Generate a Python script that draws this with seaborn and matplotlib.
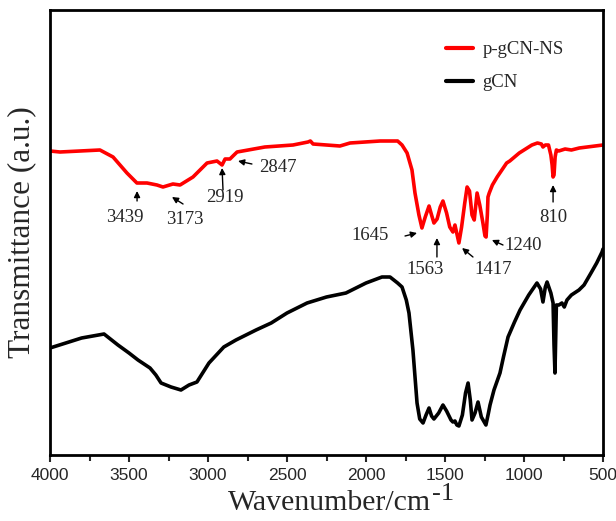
import numpy as np
import pandas as pd
import matplotlib
matplotlib.use("Agg")
import matplotlib.pyplot as plt
import seaborn as sns

# ---- data (y in arbitrary transmittance units) ----
red_wn = [4000, 3937, 3684, 3601, 3513, 3450, 3386, 3323, 3285, 3222, 3177, 3095, 3006,
          2943, 2911, 2892, 2861, 2842, 2816, 2640, 2462, 2367, 2352, 2335, 2165, 2101,
          1911, 1800, 1772, 1740, 1709, 1690, 1665, 1646, 1625, 1601, 1585, 1570, 1550,
          1530, 1513, 1490, 1470, 1450, 1437, 1412, 1395, 1375, 1360, 1345, 1329, 1315,
          1297, 1280, 1260, 1247, 1240, 1232, 1228, 1220, 1200, 1170, 1140, 1110, 1090,
          1060, 1030, 990, 950, 915, 890, 880, 865, 845, 830, 822, 816, 810, 803, 795,
          780, 740, 700, 650, 600, 550, 500]
red_val = [304, 303, 305, 298, 282, 272, 272, 270, 268, 271, 270, 278, 292,
           294, 290, 296, 296, 299, 303, 308, 310, 313, 314, 311, 309, 312,
           314, 314, 310, 302, 285, 262, 240, 227, 238, 249, 240, 232, 236,
           248, 254, 242, 228, 223, 230, 212, 228, 252, 268, 264, 240, 235,
           262, 250, 232, 219, 218, 240, 258, 262, 270, 278, 285, 292, 294,
           298, 302, 306, 310, 312, 311, 308, 310, 310, 300, 290, 278, 280, 298, 305,
           304, 306, 305, 307, 308, 309, 310]

black_wn = [4000, 3900, 3800, 3658, 3570, 3500, 3443, 3367, 3330, 3297, 3234, 3171, 3120,
            3070, 2994, 2900, 2823, 2696, 2600, 2500, 2373, 2250, 2127, 2000, 1899, 1848,
            1800, 1772, 1745, 1728, 1703, 1677, 1660, 1639, 1620, 1601, 1585, 1570, 1540,
            1513, 1490, 1462, 1450, 1437, 1425, 1412, 1390, 1370, 1354, 1340, 1329, 1310,
            1291, 1270, 1241, 1225, 1215, 1190, 1152, 1130, 1101, 1060, 1025, 970, 918,
            895, 880, 865, 854, 830, 816, 810, 804, 795, 779, 760, 745, 728, 700, 652,
            620, 576, 540, 506, 500]
black_val = [107, 112, 117, 121, 110, 102, 95, 87, 80, 72, 68, 65, 70,
             73, 92, 108, 115, 125, 132, 142, 152, 158, 162, 172, 178, 178,
             172, 168, 155, 142, 105, 52, 36, 32, 40, 47, 39, 36, 42,
             50, 44, 35, 33, 34, 30, 29, 40, 62, 72, 55, 35, 42,
             53, 38, 30, 42, 50, 65, 82, 98, 118, 133, 145, 160, 172,
             166, 153, 168, 173, 162, 152, 110, 82, 150, 150, 152, 148, 155, 160, 165,
             170, 182, 192, 203, 206]

series_names = ["p-gCN-NS", "gCN"]
peak_labels = ["3439", "3173", "2919", "2847", "1645", "1563", "1417", "1240", "810"]

# ---- layout for annotations: (text_x, text_y, tail_x, tail_y, head_x, head_y) ----
ann_layout = [
    (3525, 238, 3449, 254, 3449, 264),
    (3146, 235, 3158, 251, 3228, 258),
    (2892, 257, 2905, 265, 2911, 287),
    (2557, 288, 2722, 291, 2810, 294),
    (1975, 220, 1753, 219, 1677, 222),
    (1627, 185, 1551, 198, 1551, 217),
    (1196, 185, 1323, 198, 1392, 207),
    (1006, 210, 1133, 210, 1203, 215),
    (816, 238, 816, 253, 816, 270),
]

df = pd.concat([
    pd.DataFrame({"wn": red_wn, "T": red_val, "sample": series_names[0]}),
    pd.DataFrame({"wn": black_wn, "T": black_val, "sample": series_names[1]}),
], ignore_index=True)

sns.set_style("ticks")
plt.rcParams["font.family"] = ["Liberation Serif", "DejaVu Serif"]

W, H = 616, 521
fig = plt.figure(figsize=(W / 100, H / 100), dpi=100)
ax = fig.add_axes([50 / W, 1 - 455 / H, 553 / W, 445 / H])

sns.lineplot(data=df, x="wn", y="T", hue="sample", hue_order=series_names,
             palette={"p-gCN-NS": "#ff0000", "gCN": "#000000"},
             sort=False, estimator=None, linewidth=2.6, ax=ax)

ax.set_xlim(4000, 500)
ax.set_ylim(0, 445)
ax.set_xticks([4000, 3500, 3000, 2500, 2000, 1500, 1000, 500])
ax.set_xticks(np.arange(3750, 500, -500), minor=True)
ax.set_yticks([])
ax.tick_params(axis="x", which="major", direction="out", length=5, width=1.5,
               labelsize=12.5, pad=4)
ax.tick_params(axis="x", which="minor", direction="out", length=4, width=1.5)
for lab in ax.get_xticklabels():
    lab.set_fontfamily("Liberation Sans")
for sp in ax.spines.values():
    sp.set_linewidth(2)
    sp.set_color("black")

ax.set_xlabel("")
ax.set_ylabel("Transmittance (a.u.)", fontsize=22.5, labelpad=10)

# x label: "Wavenumber/cm" with a nearly full-size raised "-1"
main = fig.text(228 / W, 1 - 510 / H, "Wavenumber/cm", fontsize=21.5,
                ha="left", va="baseline")
fig.canvas.draw()
bb = main.get_window_extent(fig.canvas.get_renderer())
fig.text(bb.x1 / W + 1 / W, 1 - 500 / H, "-1", fontsize=19, ha="left", va="baseline")

for lab, (tx, ty, ax0, ay0, hx, hy) in zip(peak_labels, ann_layout):
    ax.text(tx, ty, lab, fontsize=13.5, ha="center", va="center")
    ax.annotate("", xy=(hx, hy), xytext=(ax0, ay0),
                arrowprops=dict(arrowstyle="-|>", color="black", lw=1,
                                mutation_scale=9, shrinkA=0, shrinkB=0))

leg = ax.legend(loc="upper left", bbox_to_anchor=(0.685, 0.968), frameon=False,
                fontsize=13.5, handlelength=1.45, handletextpad=0.5, labelspacing=0.85)
for line in leg.get_lines():
    line.set_linewidth(3)

fig.savefig("out.png", dpi=100)
